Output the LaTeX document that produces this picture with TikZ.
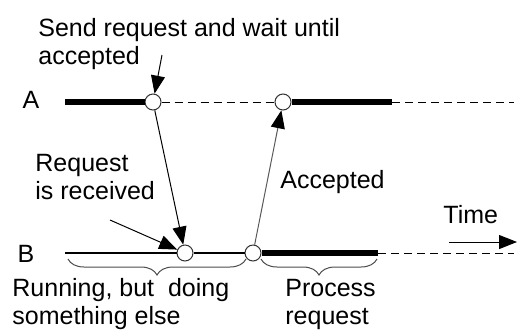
\documentclass[tikz,border=0pt]{standalone}
\usepackage{fontspec}
\setmainfont{Liberation Sans}
\usetikzlibrary{arrows.meta,decorations.pathreplacing}
\tikzset{
  event/.style={circle,draw=black!80,line width=0.5pt,fill=white,minimum size=8pt,inner sep=0pt},
  busy/.style={line width=2.6pt},
  idle/.style={dash pattern=on 4pt off 2.5pt,line width=0.5pt},
  msg/.style={-{Triangle[length=9pt,width=7pt,color=black]},line width=0.5pt},
  lbl/.style={inner sep=0pt,align=left,font=\fontsize{12.5}{14}\selectfont},
  span/.style={decorate,decoration={brace,amplitude=8pt,mirror},draw=black!70,line width=0.5pt},
}
\begin{document}
\begin{tikzpicture}[x=0.5pt,y=-0.5pt]
\useasboundingbox (0,0) rectangle (518,333);
% the two processes and their events
\node[lbl] (A) at (31,100) {A};
\node[lbl] (B) at (26,254) {B};
\node[event] (a1) at (153,102) {};
\node[event] (a2) at (283,102) {};
\node[event] (b1) at (185,253) {};
\node[event] (b2) at (253,253) {};
\coordinate (a0) at (65,102);
\coordinate (a3) at (392,102);
\coordinate (a4) at (514,102);
\coordinate (b0) at (65,253);
\coordinate (b3) at (378,253);
\coordinate (b4) at (514,253);
\draw[busy](a0)--(a1);
\draw[idle](a1)--(a2);
\draw[busy](a2)--(a3);
\draw[idle](a3)--(a4);
\draw[line width=1.3pt](b0)--(b1);
\draw[line width=1.3pt](b1)--(b2);
\draw[busy](b2)--(b3);
\draw[idle](b3)--(b4);
% messages
\draw[msg](a1)--(b1);
\draw[msg,black!65](b2)--(a2);
% labels with pointers (base = last line)
\node[lbl,anchor=base west] (send) at (38,64) {Send request and wait until\\accepted};
\coordinate (s0) at (162,55);
\draw[msg](s0)--(a1);
\node[lbl,anchor=base west] (recv) at (35,199) {Request\\is received};
\coordinate (r0) at (110,220);
\draw[msg](r0)--(b1);
\node[lbl,anchor=base west] (acc) at (280,188) {Accepted};
\node[lbl,anchor=base west] (time) at (443,223) {Time};
\coordinate (t0) at (449,242);
\coordinate (t1) at (517,242);
\draw[msg](t0)--(t1);
% what B is doing
\coordinate (c0) at (68,259);
\coordinate (c1) at (246,259);
\coordinate (c2) at (261,259);
\coordinate (c3) at (377,259);
\draw[span](c0)--(c1);
\draw[span](c2)--(c3);
\node[lbl,anchor=base west] (run) at (12,324) {Running, but\ \ doing\\something else};
\node[lbl,anchor=base west] (proc) at (285,324) {Process\\request};
\end{tikzpicture}
\end{document}
